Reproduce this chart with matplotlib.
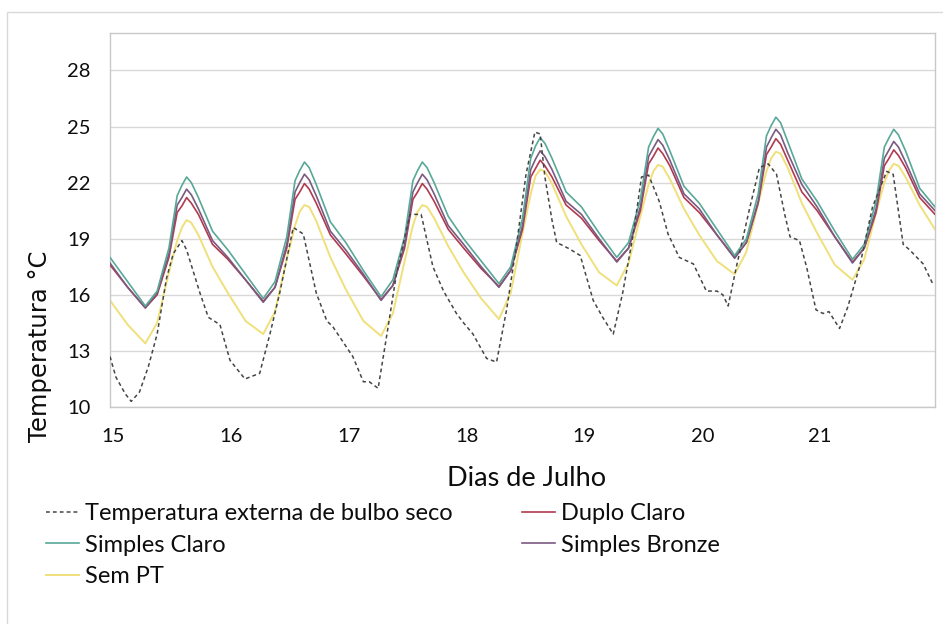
import matplotlib
matplotlib.use("Agg")
import matplotlib.pyplot as plt
from matplotlib.patches import Rectangle
from matplotlib.transforms import ScaledTranslation

# ---------------- data ----------------
# external dry-bulb temperature (key points), x in days of July
t_ext = [15.00, 15.05, 15.13, 15.18, 15.25, 15.325, 15.40, 15.48, 15.537, 15.61, 15.65, 15.763, 15.834, 15.933,
         16.018, 16.145, 16.27, 16.357, 16.44, 16.555, 16.64, 16.75, 16.84, 16.89,
         17.06, 17.15, 17.20, 17.275, 17.35, 17.43, 17.545, 17.64, 17.74, 17.83, 17.94,
         18.00, 18.08, 18.195, 18.28, 18.365, 18.45, 18.53, 18.605, 18.65, 18.69, 18.75, 18.79, 18.90, 18.99,
         19.10, 19.18, 19.27, 19.35, 19.44, 19.51, 19.57, 19.66, 19.735, 19.83, 19.95,
         20.06, 20.15, 20.20, 20.245, 20.315, 20.43, 20.51, 20.585, 20.655, 20.725, 20.77, 20.85, 20.91, 20.99,
         21.05, 21.10, 21.19, 21.26, 21.36, 21.47, 21.59, 21.645, 21.73, 21.785, 21.90, 21.98]
ext = [12.7, 11.6, 10.7, 10.3, 10.8, 12.15, 13.9, 16.9, 18.2, 18.9, 18.4, 16.1, 14.8, 14.4,
       12.5, 11.5, 11.8, 13.9, 16.1, 19.6, 19.25, 16.1, 14.6, 14.3,
       12.7, 11.35, 11.35, 11.0, 13.9, 17.1, 20.3, 20.3, 17.5, 16.2, 15.0,
       14.5, 13.9, 12.6, 12.4, 15.2, 18.7, 22.45, 24.7, 24.6, 22.3, 20.0, 18.8, 18.45, 18.1,
       15.7, 14.8, 13.9, 16.1, 19.25, 22.3, 22.4, 21.0, 19.25, 18.0, 17.65,
       16.2, 16.2, 16.0, 15.4, 17.5, 20.7, 22.8, 23.0, 22.45, 20.3, 19.1, 18.9, 17.5, 15.2,
       15.0, 15.1, 14.2, 15.35, 17.5, 20.7, 22.6, 22.45, 18.7, 18.4, 17.65, 16.6]

# indoor series sample times (days of July)
t_int = [15.00, 15.15, 15.30, 15.40, 15.50, 15.57, 15.61, 15.65, 15.69, 15.75, 15.87,
         16.00, 16.15, 16.30, 16.40, 16.50, 16.57, 16.61, 16.65, 16.69, 16.75, 16.87,
         17.00, 17.15, 17.30, 17.40, 17.50, 17.57, 17.61, 17.65, 17.69, 17.75, 17.87,
         18.00, 18.15, 18.30, 18.40, 18.50, 18.57, 18.61, 18.65, 18.69, 18.75, 18.87,
         19.00, 19.15, 19.30, 19.40, 19.50, 19.57, 19.61, 19.65, 19.69, 19.75, 19.87,
         20.00, 20.15, 20.30, 20.40, 20.50, 20.57, 20.61, 20.65, 20.69, 20.75, 20.87,
         21.00, 21.15, 21.30, 21.40, 21.50, 21.57, 21.61, 21.65, 21.69, 21.75, 21.87,
         22.00]

simples_claro = [18.0, 16.7, 15.4, 16.2, 18.5, 21.3, 21.85, 22.3, 22.0, 21.2, 19.4,
                 18.4, 17.1, 15.8, 16.7, 19.1, 22.1, 22.65, 23.1, 22.8, 21.9, 19.9,
                 18.8, 17.3, 15.9, 16.8, 19.1, 22.1, 22.65, 23.1, 22.8, 22.0, 20.2,
                 19.0, 17.8, 16.6, 17.5, 20.1, 23.3, 23.95, 24.4, 24.1, 23.3, 21.5,
                 20.7, 19.3, 18.0, 18.8, 21.1, 23.9, 24.45, 24.9, 24.6, 23.7, 21.8,
                 20.9, 19.5, 18.1, 19.0, 21.4, 24.5, 25.05, 25.5, 25.2, 24.2, 22.2,
                 21.0, 19.4, 17.9, 18.7, 21.0, 23.9, 24.4, 24.85, 24.55, 23.7, 21.7,
                 20.7]

simples_bronze = [17.7, 16.4, 15.3, 16.1, 18.2, 20.8, 21.2, 21.65, 21.35, 20.6, 18.9,
                  18.0, 16.8, 15.6, 16.4, 18.7, 21.5, 22.0, 22.45, 22.15, 21.3, 19.4,
                  18.4, 17.1, 15.7, 16.5, 18.7, 21.5, 22.0, 22.45, 22.15, 21.4, 19.7,
                  18.7, 17.5, 16.4, 17.3, 19.7, 22.7, 23.25, 23.7, 23.4, 22.7, 21.0,
                  20.3, 19.0, 17.75, 18.5, 20.7, 23.4, 23.85, 24.3, 24.0, 23.2, 21.4,
                  20.6, 19.2, 17.95, 18.8, 21.0, 23.9, 24.4, 24.85, 24.55, 23.6, 21.9,
                  20.7, 19.1, 17.7, 18.5, 20.6, 23.3, 23.75, 24.2, 23.9, 23.1, 21.4,
                  20.5]

duplo_claro = [17.6, 16.4, 15.3, 16.0, 18.0, 20.4, 20.75, 21.2, 20.9, 20.3, 18.7,
               17.9, 16.8, 15.65, 16.4, 18.5, 21.1, 21.5, 21.95, 21.65, 20.9, 19.2,
               18.2, 17.0, 15.75, 16.5, 18.5, 21.1, 21.5, 21.95, 21.65, 21.0, 19.5,
               18.5, 17.4, 16.45, 17.3, 19.5, 22.3, 22.75, 23.2, 22.9, 22.3, 20.8,
               20.1, 18.9, 17.8, 18.5, 20.5, 23.0, 23.4, 23.85, 23.55, 22.9, 21.2,
               20.4, 19.2, 18.0, 18.8, 20.9, 23.5, 23.9, 24.35, 24.05, 23.2, 21.5,
               20.5, 19.1, 17.75, 18.5, 20.4, 22.9, 23.3, 23.75, 23.45, 22.8, 21.2,
               20.3]

sem_pt = [15.7, 14.4, 13.4, 14.5, 17.2, 18.9, 19.6, 20.0, 19.85, 19.2, 17.5,
          16.1, 14.6, 13.9, 15.1, 17.9, 19.7, 20.45, 20.8, 20.7, 19.95, 18.0,
          16.3, 14.6, 13.8, 15.0, 17.8, 19.7, 20.45, 20.8, 20.7, 20.1, 18.6,
          17.2, 15.8, 14.7, 16.1, 19.3, 21.4, 22.35, 22.7, 22.6, 21.95, 20.2,
          18.7, 17.2, 16.5, 17.7, 20.2, 21.9, 22.6, 22.95, 22.85, 22.2, 20.6,
          19.2, 17.8, 17.1, 18.3, 20.9, 22.6, 23.3, 23.65, 23.55, 22.8, 20.9,
          19.3, 17.6, 16.8, 17.9, 20.4, 22.0, 22.65, 23.0, 22.9, 22.3, 20.8,
          19.5]

day_ticks = [15, 16, 17, 18, 19, 20, 21]
y_ticks = [10, 13, 16, 19, 22, 25, 28]

labels = {
    "ext": "Temperatura externa de bulbo seco",
    "duplo": "Duplo Claro",
    "sc": "Simples Claro",
    "sb": "Simples Bronze",
    "sem": "Sem PT",
}

# ---------------- style ----------------
plt.rcParams["font.family"] = ["Lato", "DejaVu Sans"]
TXT = "#0d0d0d"

W, H = 943, 624
fig = plt.figure(figsize=(W / 100, H / 100), dpi=100)
fig.patch.set_facecolor("white")

# outer chart border
fig.patches.append(Rectangle((7 / W, -0.01), 1.0, (H - 12) / H + 0.01, transform=fig.transFigure,
                             fill=False, edgecolor="#d9d9d9", linewidth=1.0))

ax = fig.add_axes([110 / W, (H - 407) / H, 825 / W, 374 / H])

c_ext = "#454545"
c_duplo = "#b03a4e"
c_sc = "#58a898"
c_sb = "#7a5a82"
c_sem = "#efe07a"

l_ext, = ax.plot(t_ext, ext, color=c_ext, linewidth=1.1, linestyle=(0, (2.5, 2.0)), label=labels["ext"], zorder=6)
l_sem, = ax.plot(t_int, sem_pt, color=c_sem, linewidth=1.4, label=labels["sem"], zorder=2)
l_duplo, = ax.plot(t_int, duplo_claro, color=c_duplo, linewidth=1.2, label=labels["duplo"], zorder=3)
l_sb, = ax.plot(t_int, simples_bronze, color=c_sb, linewidth=1.2, label=labels["sb"], zorder=4)
l_sc, = ax.plot(t_int, simples_claro, color=c_sc, linewidth=1.2, label=labels["sc"], zorder=5)

ax.set_xlim(15, 22)
ax.set_ylim(10, 30)
ax.set_yticks(y_ticks)
ax.set_xticks(day_ticks)
ax.set_xticklabels([str(d) for d in day_ticks], fontsize=14.5, color=TXT)
ax.set_yticklabels([str(v) for v in y_ticks], fontsize=14.5, color=TXT)
ax.tick_params(axis="both", length=0)
ax.tick_params(axis="y", pad=14)
ax.tick_params(axis="x", pad=15)
shift = ScaledTranslation(3 / 100, 0, fig.dpi_scale_trans)
for lab in ax.get_xticklabels():
    lab.set_transform(lab.get_transform() + shift)
ax.grid(axis="y", color="#d9d9d9", linewidth=1.0)
ax.set_axisbelow(True)
for s in ax.spines.values():
    s.set_color("#c8c8c8")
    s.set_linewidth(1.0)

# axis titles
fig.text(40 / W, (H - 346) / H, "Temperatura °C", rotation=90, ha="center", va="center",
         fontsize=17.5, family=["DejaVu Sans"], color=TXT)
fig.text(527 / W, (H - 478) / H, "Dias de Julho", ha="center", va="center",
         fontsize=19.5, color=TXT)

# legend: two columns placed like the reference
col1 = [l_ext, l_sc, l_sem]
col2 = [l_duplo, l_sb]
common = dict(frameon=False, loc="upper left", prop={"size": 17}, handlelength=1.4,
              handletextpad=0.25, labelspacing=0.45, borderaxespad=0.0, borderpad=0.0,
              labelcolor=TXT)
leg1 = fig.legend(handles=col1, labels=[h.get_label() for h in col1],
                  bbox_to_anchor=(46 / W, (H - 503) / H), **common)
leg2 = fig.legend(handles=col2, labels=[h.get_label() for h in col2],
                  bbox_to_anchor=(522 / W, (H - 503) / H), **common)

fig.savefig("out.png", dpi=100, facecolor="white")
